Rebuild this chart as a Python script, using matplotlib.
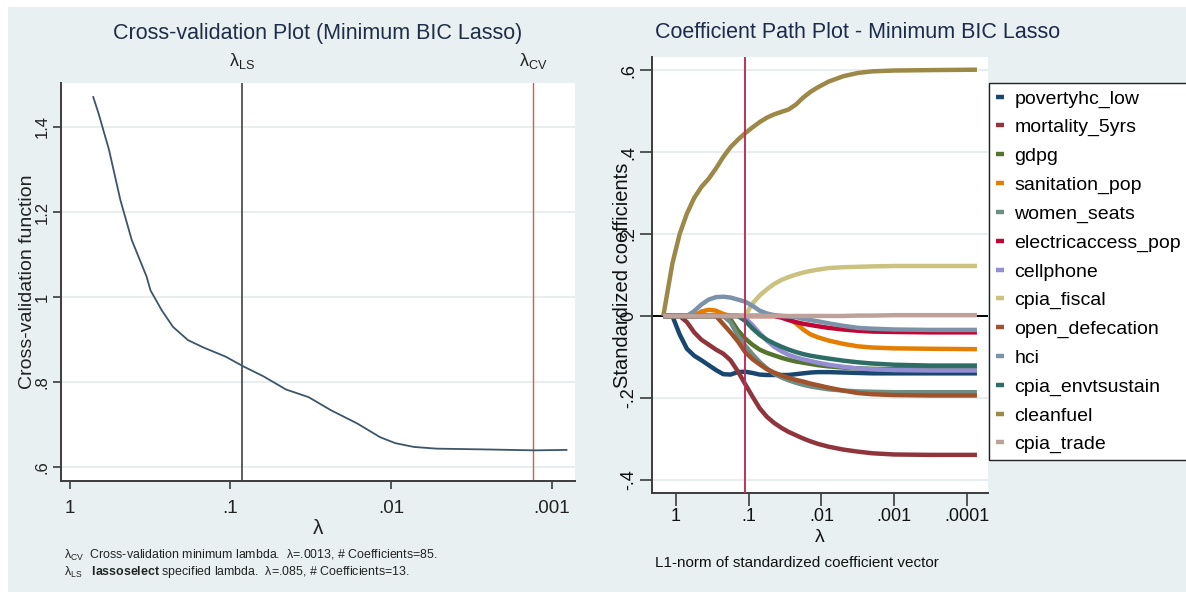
import matplotlib
matplotlib.use('Agg')
import matplotlib.pyplot as plt
import matplotlib.transforms as mtrans
from matplotlib.lines import Line2D
from matplotlib.patches import Rectangle

plt.rcParams['mathtext.fontset'] = 'custom'
plt.rcParams['mathtext.rm'] = 'Liberation Sans'
plt.rcParams['mathtext.it'] = 'Liberation Sans'
plt.rcParams['mathtext.bf'] = 'Liberation Sans:bold'

SANS = ['Liberation Sans', 'DejaVu Sans']

# ---------------- data: cross-validation plot ----------------
cv_lambda = [0.716, 0.664, 0.571, 0.485, 0.412, 0.333, 0.315, 0.268, 0.228,
             0.184, 0.148, 0.107, 0.0839, 0.0624, 0.0451, 0.0326, 0.0236,
             0.0162, 0.0117, 0.00942, 0.00719, 0.0052, 0.00244, 0.00128,
             0.000807]
cv_value = [1.470, 1.432, 1.346, 1.228, 1.134, 1.048, 1.016, 0.969, 0.930,
            0.899, 0.882, 0.860, 0.838, 0.814, 0.783, 0.765, 0.734, 0.703,
            0.671, 0.657, 0.648, 0.644, 0.642, 0.640, 0.641]
lambda_ls = 0.085
lambda_cv = 0.0013
coef_ls = 13
coef_cv = 85
cv_xticks = [1, 0.1, 0.01, 0.001]
cv_xticklabels = ['1', '.1', '.01', '.001']
cv_yticks = [0.6, 0.8, 1.0, 1.2, 1.4]
cv_yticklabels = ['.6', '.8', '1', '1.2', '1.4']

# ---------------- data: coefficient paths ----------------
path_lambda = [1.496, 1.122, 0.891, 0.708, 0.562, 0.447, 0.355, 0.282, 0.224,
               0.178, 0.141, 0.112, 0.0891, 0.0708, 0.0562, 0.0447, 0.0355,
               0.0282, 0.0224, 0.0178, 0.0141, 0.0112, 0.00794, 0.00501,
               0.00316, 0.00200, 0.00100, 0.000316, 0.0000724]

povertyhc_low = [0, 0, -0.045, -0.08, -0.097, -0.108, -0.12, -0.132, -0.142,
                 -0.143, -0.137, -0.136, -0.139, -0.143, -0.144, -0.144, -0.144,
                 -0.144, -0.142, -0.140, -0.138, -0.137, -0.137, -0.138, -0.139,
                 -0.140, -0.140, -0.140, -0.140]
mortality_5yrs = [0, 0, 0, -0.015, -0.04, -0.058, -0.07, -0.082, -0.092,
                  -0.108, -0.135, -0.166, -0.196, -0.225, -0.246, -0.261,
                  -0.273, -0.283, -0.291, -0.299, -0.306, -0.312, -0.319,
                  -0.326, -0.331, -0.335, -0.338, -0.339, -0.339]
gdpg = [0, 0, 0, 0, 0, 0, 0, 0, 0, -0.008, -0.035, -0.055, -0.07, -0.082,
        -0.09, -0.096, -0.102, -0.107, -0.111, -0.114, -0.117, -0.12, -0.123,
        -0.126, -0.128, -0.129, -0.13, -0.13, -0.13]
sanitation_pop = [0, 0, 0, 0, 0, 0.011, 0.015, 0.013, 0.005, 0, 0, 0, 0, 0, 0,
                  0, 0, -0.005, -0.018, -0.033, -0.045, -0.052, -0.06, -0.068,
                  -0.074, -0.077, -0.079, -0.08, -0.081]
women_seats = [0, 0, 0, 0, 0, 0, 0, 0, 0, -0.015, -0.048, -0.072, -0.093,
               -0.112, -0.128, -0.141, -0.150, -0.157, -0.163, -0.168, -0.172,
               -0.175, -0.179, -0.182, -0.184, -0.185, -0.186, -0.186, -0.186]
electricaccess_pop = [0, 0, 0, 0, 0, 0, 0, 0, 0, 0, 0, 0, 0, 0, 0, 0, -0.004,
                      -0.01, -0.015, -0.019, -0.022, -0.025, -0.029, -0.033,
                      -0.036, -0.038, -0.039, -0.04, -0.04]
cellphone = [0, 0, 0, 0, 0, 0, 0, 0, 0, 0, 0, -0.005, -0.022, -0.042, -0.06,
             -0.075, -0.086, -0.095, -0.101, -0.106, -0.11, -0.114, -0.119,
             -0.124, -0.128, -0.13, -0.132, -0.133, -0.133]
cpia_fiscal = [0, 0, 0, 0, 0, 0, 0, 0, 0, 0, 0, 0, 0.03, 0.05, 0.065, 0.078,
               0.088, 0.095, 0.101, 0.106, 0.11, 0.113, 0.117, 0.119, 0.12,
               0.121, 0.122, 0.122, 0.122]
open_defecation = [0, 0, 0, 0, 0, 0, 0, 0, -0.02, -0.04, -0.062, -0.088,
                   -0.105, -0.118, -0.13, -0.138, -0.145, -0.151, -0.156, -0.16,
                   -0.165, -0.169, -0.175, -0.182, -0.188, -0.191, -0.193,
                   -0.194, -0.194]
hci = [0, 0, 0, 0, 0.012, 0.028, 0.04, 0.046, 0.047, 0.045, 0.04, 0.035,
       0.025, 0.013, 0.006, 0.002, 0, -0.001, -0.003, -0.007, -0.01, -0.013,
       -0.018, -0.024, -0.029, -0.031, -0.033, -0.034, -0.034]
cpia_envtsustain = [0, 0, 0, 0, 0, 0, 0, 0, 0, 0, 0, -0.012, -0.03, -0.046,
                    -0.058, -0.067, -0.075, -0.082, -0.088, -0.093, -0.097,
                    -0.1, -0.104, -0.109, -0.113, -0.116, -0.119, -0.121, -0.121]
cleanfuel = [0, 0.128, 0.20, 0.25, 0.288, 0.315, 0.335, 0.36, 0.388, 0.412,
             0.43, 0.446, 0.46, 0.473, 0.484, 0.492, 0.498, 0.504, 0.516,
             0.533, 0.547, 0.558, 0.572, 0.585, 0.593, 0.597, 0.599, 0.600,
             0.601]
cpia_trade = [0, 0, 0, 0, 0, 0, 0, 0, 0, 0, 0, 0, 0, 0, 0, 0, 0, 0, 0, 0, 0,
              0, 0, 0, 0.001, 0.001, 0.002, 0.002, 0.002]

path_names = ['povertyhc_low', 'mortality_5yrs', 'gdpg', 'sanitation_pop',
              'women_seats', 'electricaccess_pop', 'cellphone', 'cpia_fiscal',
              'open_defecation', 'hci', 'cpia_envtsustain', 'cleanfuel',
              'cpia_trade']
path_values = [povertyhc_low, mortality_5yrs, gdpg, sanitation_pop,
               women_seats, electricaccess_pop, cellphone, cpia_fiscal,
               open_defecation, hci, cpia_envtsustain, cleanfuel, cpia_trade]
path_colors = ['#1a476f', '#90353b', '#55752f', '#e37e00', '#6e8e84',
               '#c10534', '#938dd2', '#cac27e', '#a0522d', '#7b92a8',
               '#2d6d66', '#9c8847', '#bfa19c']
path_xline = 0.112
path_xticks = [1, 0.1, 0.01, 0.001, 0.0001]
path_xticklabels = ['1', '.1', '.01', '.001', '.0001']
path_yticks = [-0.4, -0.2, 0, 0.2, 0.4, 0.6]
path_yticklabels = ['-.4', '-.2', '0', '.2', '.4', '.6']

# ---------------- figure ----------------
W, H = 1186, 592
BG = '#e9f0f2'
fig = plt.figure(figsize=(W / 100, H / 100), dpi=100, facecolor='white')
fig.patches.append(Rectangle((8 / W, 0), 1 - 8 / W, 1 - 7 / H,
                             transform=fig.transFigure, facecolor=BG,
                             edgecolor='none', zorder=-10))


def fx(px):
    return px / W


def fy(py):
    return 1 - py / H


SPINE = '#3c3c3c'
GRID = '#e6edef'

# ---- left: cross-validation ----
axL = fig.add_axes([fx(61), fy(481), fx(575) - fx(61), fy(83) - fy(481)])
axL.set_facecolor('white')
axL.set_xscale('log')
axL.set_xlim(1.137, 7.14e-4)
axL.set_ylim(0.568, 1.503)
axL.minorticks_off()
for s in ['top', 'right']:
    axL.spines[s].set_visible(False)
for s in ['left', 'bottom']:
    axL.spines[s].set_color(SPINE)
    axL.spines[s].set_linewidth(1.4)
axL.set_yticks(cv_yticks)
axL.set_yticklabels(cv_yticklabels, rotation=90, va='center',
                    fontfamily=SANS, fontsize=12)
axL.set_xticks(cv_xticks)
axL.set_xticklabels(cv_xticklabels, fontfamily=SANS, fontsize=13.5)
axL.tick_params(axis='both', direction='out', length=6, width=1.2,
                color=SPINE, labelcolor='#222222')
axL.tick_params(axis='y', pad=2)
axL.tick_params(axis='x', pad=8)
axL.yaxis.grid(True, color=GRID, linewidth=1.3)
axL.set_axisbelow(True)
axL.axvline(lambda_ls, color='#333333', linewidth=1.1, zorder=2)
axL.axvline(lambda_cv, color='#e05555', linewidth=1.0, zorder=2)
axL.plot(cv_lambda, cv_value, color='#3d5569', linewidth=1.3, zorder=3)
axL.set_ylabel('Cross-validation function', fontfamily=SANS, fontsize=14,
               color='#222222')
axL.yaxis.set_label_coords((28 - 61) / 514, 0.5)
axL.yaxis.label.set_va('center')
topT = mtrans.blended_transform_factory(axL.transData, axL.transAxes)
axL.text(lambda_ls, 1.03, r'λ$_{\mathrm{LS}}$', transform=topT, ha='center',
         va='bottom', fontfamily=SANS, fontsize=13, color='#222222')
axL.text(lambda_cv, 1.03, r'λ$_{\mathrm{CV}}$', transform=topT, ha='center',
         va='bottom', fontfamily=SANS, fontsize=13, color='#222222')
fig.text(fx(318), fy(33), 'Cross-validation Plot (Minimum BIC Lasso)',
         ha='center', va='center', fontfamily=SANS, fontsize=15.5,
         color='#1f2e48')
fig.text(fx(318), fy(528), 'λ', ha='center', va='center', fontfamily=SANS,
         fontsize=15, color='#222222')
fig.text(fx(64), fy(555),
         r'λ$_{\mathrm{CV}}$  Cross-validation minimum lambda.  '
         f'λ={str(lambda_cv)[1:]}, # Coefficients={coef_cv}.',
         ha='left', va='center', fontfamily=SANS, fontsize=8.9,
         color='#222222')
fig.text(fx(64), fy(572),
         r'λ$_{\mathrm{LS}}$   $\mathbf{lassoselect}$ specified lambda.  '
         f'λ={str(lambda_ls)[1:]}, # Coefficients={coef_ls}.',
         ha='left', va='center', fontfamily=SANS, fontsize=8.9,
         color='#222222')

# ---- right: coefficient paths ----
axR = fig.add_axes([fx(652), fy(493), fx(988) - fx(652), fy(57) - fy(493)])
axR.set_facecolor('white')
axR.set_xscale('log')
axR.set_xlim(2.14, 5.1e-5)
axR.set_ylim(-0.432, 0.632)
axR.minorticks_off()
for s in ['top', 'right']:
    axR.spines[s].set_visible(False)
for s in ['left', 'bottom']:
    axR.spines[s].set_color(SPINE)
    axR.spines[s].set_linewidth(1.4)
axR.set_yticks(path_yticks)
axR.set_yticklabels(path_yticklabels, rotation=90, va='center',
                    fontfamily=SANS, fontsize=13)
axR.set_xticks(path_xticks)
axR.set_xticklabels(path_xticklabels, fontfamily=SANS, fontsize=13)
axR.tick_params(axis='both', direction='out', length=9, width=1.2,
                color=SPINE, labelcolor='#111111')
axR.tick_params(axis='y', pad=1.5)
axR.tick_params(axis='x', pad=2)
for t in path_yticks:
    if t != 0:
        axR.axhline(t, color=GRID, linewidth=1.3, zorder=0)
axR.axhline(0, color='black', linewidth=1.4, zorder=1)
handles = []
for name, vals, col in zip(path_names, path_values, path_colors):
    axR.plot(path_lambda, vals, color=col, linewidth=3.2,
             solid_capstyle='butt', solid_joinstyle='round', zorder=2)
    handles.append(Line2D([0], [0], color=col, linewidth=3.2,
                          solid_capstyle='butt'))
axR.axvline(path_xline, color='#c0305a', linewidth=1.4, zorder=3)
axR.set_ylabel('Standardized coefficients', fontfamily=SANS, fontsize=14.5,
               color='#111111')
axR.yaxis.set_label_coords((622 - 652) / 336, 0.5)
axR.yaxis.label.set_va('center')
fig.text(fx(655), fy(33), 'Coefficient Path Plot - Minimum BIC Lasso',
         ha='left', va='center', fontfamily=SANS, fontsize=15.5,
         color='#1d2b4b')
fig.text(fx(820), fy(537), 'λ', ha='center', va='center', fontfamily=SANS,
         fontsize=14, color='#111111')
fig.text(fx(655), fy(563), 'L1-norm of standardized coefficient vector',
         ha='left', va='center', fontfamily=SANS, fontsize=11,
         color='#111111')

leg = fig.legend(handles, path_names, loc='upper left',
                 bbox_to_anchor=(fx(989), fy(83)), bbox_transform=fig.transFigure,
                 borderaxespad=0, prop={'family': SANS, 'size': 14},
                 handlelength=0.4, handletextpad=0.55, labelspacing=0.57,
                 borderpad=0.35, frameon=True, fancybox=False)
leg.get_frame().set_edgecolor('#222222')
leg.get_frame().set_linewidth(1.0)
leg.get_frame().set_facecolor('white')
leg.get_frame().set_alpha(1)

fig.savefig('out.png', dpi=100, facecolor=fig.get_facecolor())
